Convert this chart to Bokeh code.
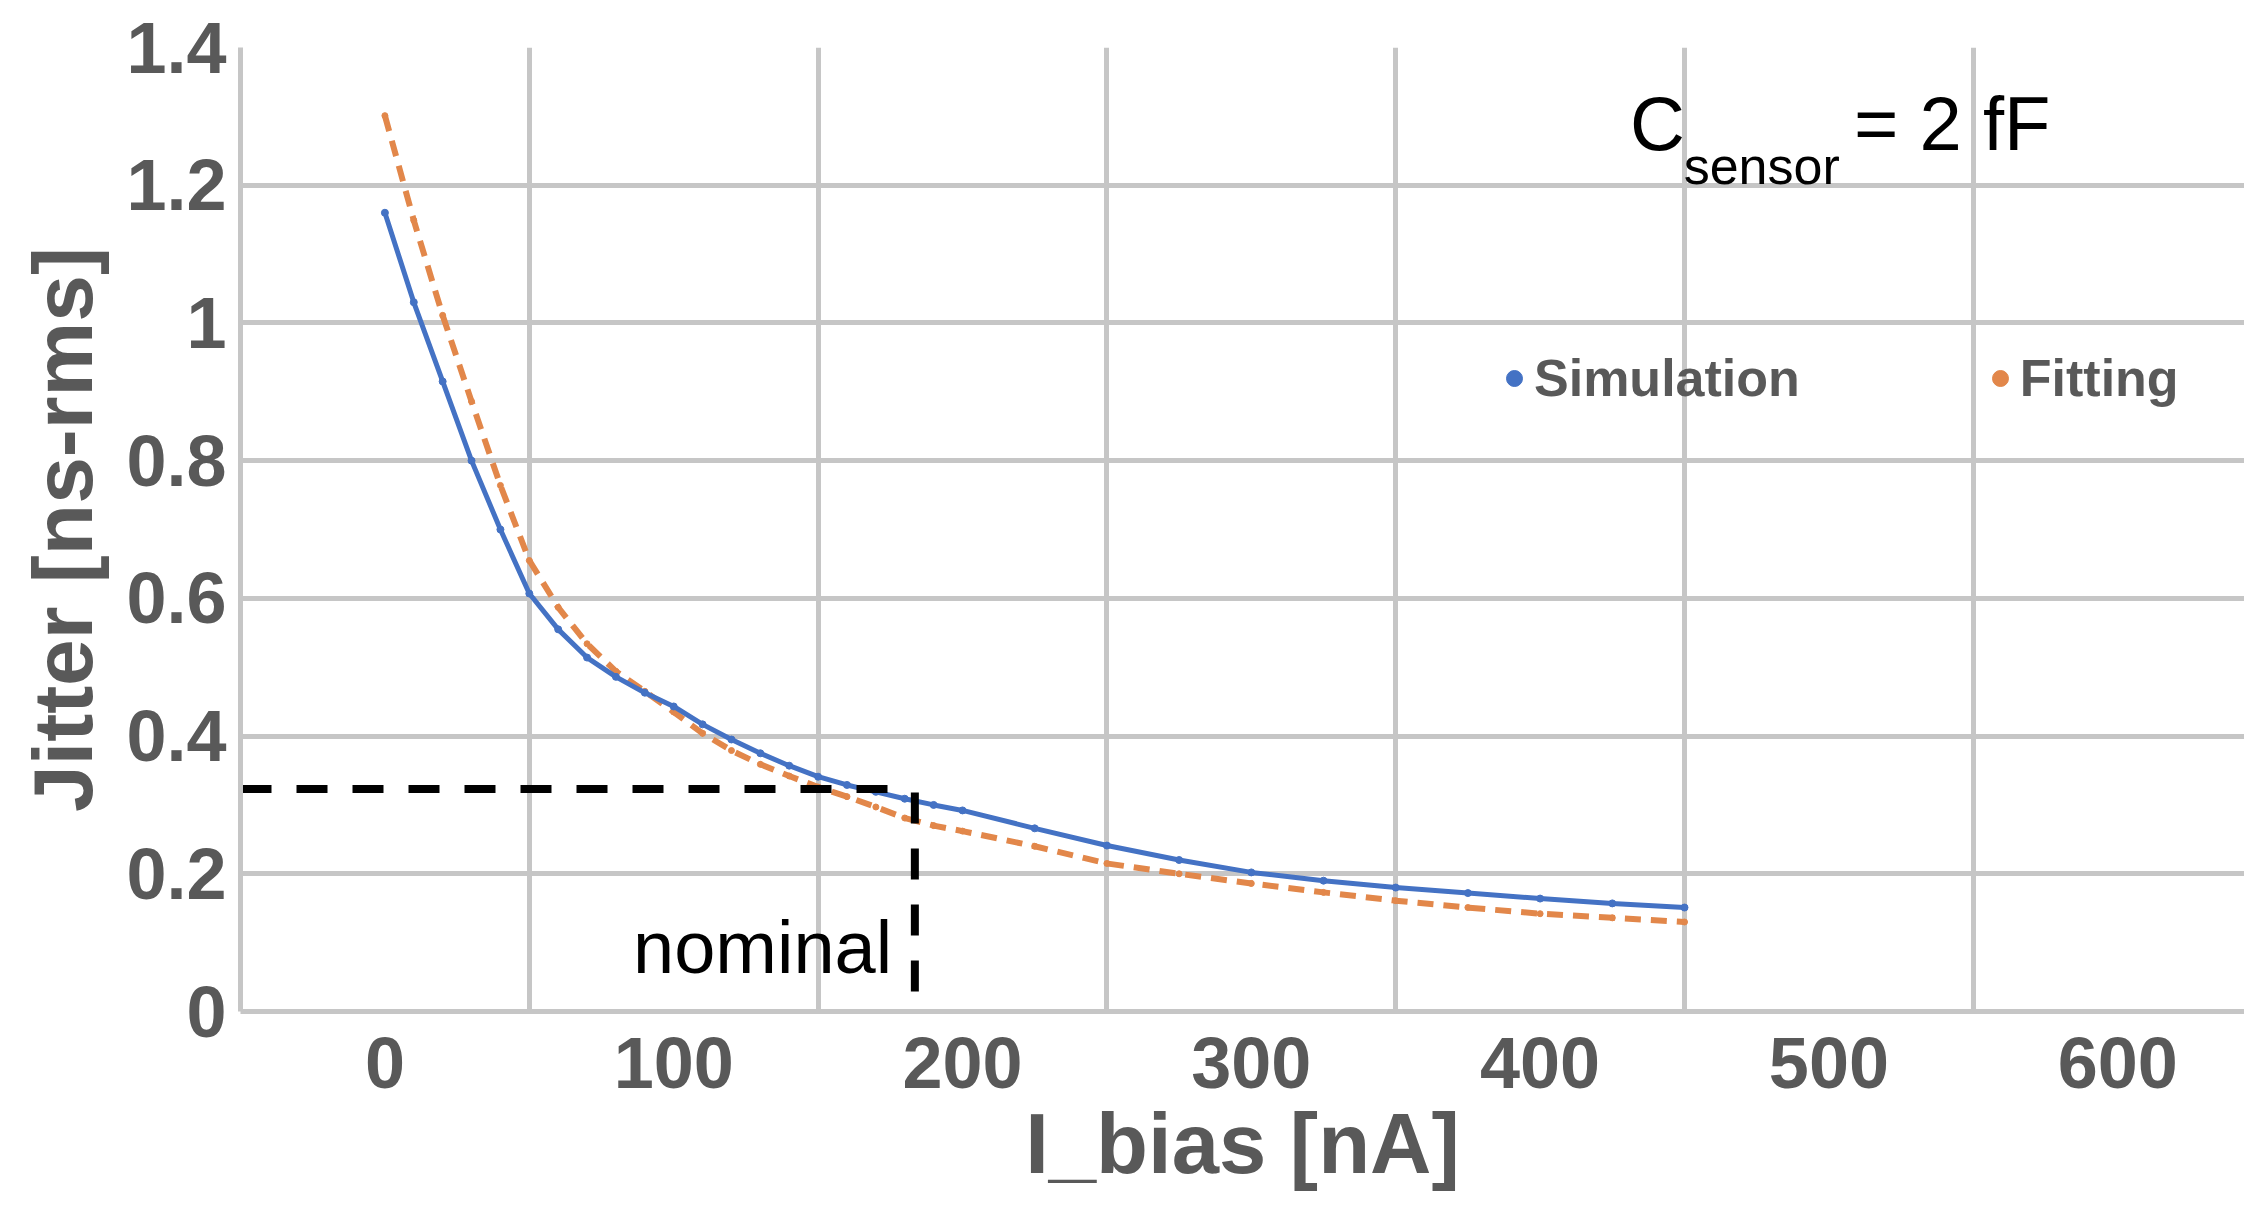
from bokeh.plotting import figure
from bokeh.models import Range1d, FixedTicker, Label, Legend, LegendItem
from bokeh.embed import file_html
from bokeh.resources import INLINE

# ---- data ----
i_bias = [0, 10, 20, 30, 40, 50, 60, 70, 80, 90, 100, 110, 120, 130, 140, 150,
          160, 170, 180, 190, 200, 225, 250, 275, 300, 325, 350, 375, 400, 425, 450]
jitter_simulation = [1.160, 1.030, 0.915, 0.800, 0.700, 0.607, 0.555, 0.514, 0.486,
                     0.463, 0.443, 0.417, 0.395, 0.375, 0.357, 0.341, 0.329, 0.319,
                     0.309, 0.300, 0.292, 0.266, 0.241, 0.220, 0.202, 0.190, 0.180,
                     0.172, 0.164, 0.157, 0.151]
jitter_fitting = [1.301, 1.149, 1.011, 0.886, 0.764, 0.655, 0.587, 0.534, 0.494,
                  0.465, 0.435, 0.404, 0.379, 0.359, 0.342, 0.326, 0.312, 0.297,
                  0.281, 0.270, 0.262, 0.240, 0.215, 0.200, 0.186, 0.173, 0.161,
                  0.151, 0.142, 0.136, 0.130]

x_ticks = [0, 100, 200, 300, 400, 500, 600]
x_grid_lines = [50, 150, 250, 350, 450, 550]
y_ticks = [0, 0.2, 0.4, 0.6, 0.8, 1.0, 1.2, 1.4]
y_tick_labels = ["0", "0.2", "0.4", "0.6", "0.8", "1", "1.2", "1.4"]

nominal_i_bias = 183.5
nominal_jitter = 0.323
nominal_h_end = 177.0
nominal_v_end = 0.028

# ---- styles ----
FONT = "Liberation Sans"
GRAY_TEXT = "#595959"
GRID = "#C6C6C6"
BLUE = "#4472C4"
ORANGE = "#E2874A"

p = figure(width=2244, height=1218, output_backend="svg", toolbar_location=None,
           x_range=Range1d(-50, 643.9), y_range=Range1d(0, 1.4))
p.min_border = 0
p.min_border_left = 240
p.min_border_right = 0
p.min_border_top = 47
p.min_border_bottom = 207
p.outline_line_color = None
p.background_fill_color = "white"
p.border_fill_color = "white"

# axes
p.xaxis.ticker = FixedTicker(ticks=x_ticks)
p.yaxis.ticker = FixedTicker(ticks=y_ticks)
p.yaxis.major_label_overrides = {t: s for t, s in zip(y_ticks, y_tick_labels)}
for ax in (p.xaxis, p.yaxis):
    ax.axis_line_color = GRID
    ax.axis_line_width = 5
    ax.major_tick_line_color = None
    ax.minor_tick_line_color = None
    ax.major_label_text_font = FONT
    ax.major_label_text_font_style = "bold"
    ax.major_label_text_font_size = "72px"
    ax.major_label_text_color = GRAY_TEXT
    ax.axis_label_text_font = FONT
    ax.axis_label_text_font_style = "bold"
    ax.axis_label_text_color = GRAY_TEXT
p.xaxis.major_tick_out = 0
p.yaxis.major_tick_out = 0
p.xaxis.major_label_standoff = 26
p.yaxis.major_label_standoff = 14
p.yaxis.axis_label = "Jitter [ns-rms]"
p.yaxis.axis_label_text_font_size = "84px"
p.yaxis.axis_label_standoff = 13
p.xaxis.axis_label = "I_bias [nA]"
p.xaxis.axis_label_text_font_size = "85px"
p.xaxis.axis_label_standoff = 5

# grid
p.xgrid.ticker = FixedTicker(ticks=x_grid_lines)
p.ygrid.ticker = FixedTicker(ticks=y_ticks[1:])
p.xgrid.grid_line_color = GRID
p.ygrid.grid_line_color = GRID
p.xgrid.grid_line_width = 5
p.ygrid.grid_line_width = 5

# series
p.line(i_bias, jitter_fitting, line_color=ORANGE, line_width=6, line_dash="16 10")
fit_pts = p.scatter(i_bias, jitter_fitting, size=6, color=ORANGE)
p.line(i_bias, jitter_simulation, line_color=BLUE, line_width=5)
sim_pts = p.scatter(i_bias, jitter_simulation, size=7, color=BLUE)

# nominal dashed guides
p.line([-50, nominal_h_end], [nominal_jitter, nominal_jitter], line_color="black",
       line_width=8, line_dash="31 25")
p.line([nominal_i_bias, nominal_i_bias], [nominal_jitter - 0.005, nominal_v_end],
       line_color="black", line_width=8, line_dash="31 25")

p.add_layout(Label(x=85.9, y=0.0929, text="nominal", text_font=FONT,
                   text_font_size="74px", text_color="black",
                   text_baseline="alphabetic"))

# C_sensor annotation
p.add_layout(Label(x=431.1, y=1.2895, text="C", text_font=FONT,
                   text_font_size="76px", text_color="black",
                   text_baseline="alphabetic"))
p.add_layout(Label(x=449.7, y=1.228, text="sensor", text_font=FONT,
                   text_font_size="52px", text_color="black",
                   text_baseline="alphabetic"))
p.add_layout(Label(x=508.7, y=1.2895, text="= 2 fF", text_font=FONT,
                   text_font_size="76px", text_color="black",
                   text_baseline="alphabetic"))

# legend (marker-only swatches)
legend = Legend(items=[LegendItem(label="Simulation", renderers=[sim_pts]),
                       LegendItem(label="Fitting", renderers=[fit_pts])],
                orientation="horizontal", location=(1254, 603), spacing=180,
                glyph_width=40, glyph_height=40, label_standoff=0,
                padding=0, margin=0, border_line_color=None,
                background_fill_alpha=0, label_text_font=FONT,
                label_text_font_size="52px", label_text_font_style="bold",
                label_text_color=GRAY_TEXT)
p.add_layout(legend)

open("out.html", "w").write(file_html(p, INLINE))
